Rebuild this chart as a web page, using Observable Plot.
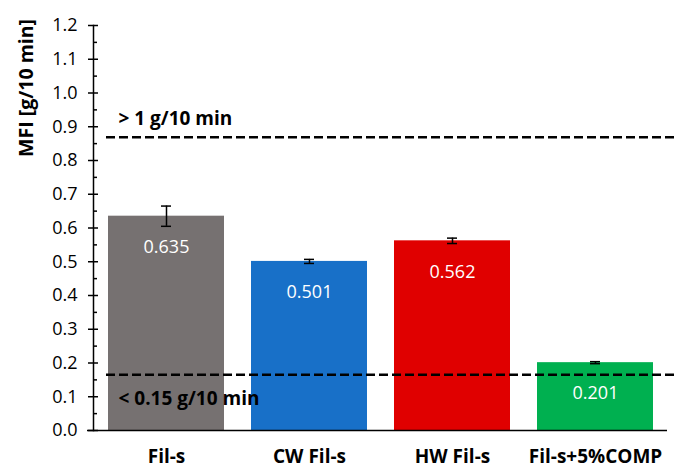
<!DOCTYPE html>
<html><head><meta charset="utf-8">
<script src="https://cdn.jsdelivr.net/npm/d3@7"></script>
<script src="https://cdn.jsdelivr.net/npm/@observablehq/plot@0.6"></script>
<style>body{margin:0;background:#fff}</style>
</head><body><div id="chart"></div>
<script>
const categories = ["Fil-s", "CW Fil-s", "HW Fil-s", "Fil-s+5%COMP"];
const values = [0.635, 0.501, 0.562, 0.201];
const errors = [0.03, 0.006, 0.008, 0.003];
const colors = ["#767171", "#1870C8", "#E00000", "#00B050"];
const yTicks = [0, 0.1, 0.2, 0.3, 0.4, 0.5, 0.6, 0.7, 0.8, 0.9, 1.0, 1.1, 1.2];
const yMinorTicks = [0.05, 0.15, 0.25, 0.35, 0.45, 0.55, 0.65, 0.75, 0.85, 0.95, 1.05, 1.15];
const limits = [0.869, 0.165];
const limitLabels = ["> 1 g/10 min", "< 0.15 g/10 min"];
const limitLabelY = [0.924, 0.095];
const yTitle = "MFI [g/10 min]";

const data = categories.map((c, i) => ({cat: c, v: values[i], e: errors[i], color: colors[i]}));
const font = "'Open Sans', sans-serif";

const chart = Plot.plot({
  width: 678, height: 468,
  marginLeft: 93, marginRight: 11, marginTop: 25, marginBottom: 38,
  style: {fontFamily: font, fontSize: "16px", color: "#000", background: "#fff"},
  x: {domain: categories, paddingInner: 0.19, paddingOuter: 0.095, label: null},
  y: {domain: [0, 1.2], label: null},
  marks: [
    Plot.barY(data, {x: "cat", y: "v", fill: "color"}),
    Plot.ruleY([0], {stroke: "#000", strokeWidth: 1.5, insetLeft: -6}),
    Plot.frame({anchor: "left", stroke: "#000", strokeWidth: 1.5}),
    Plot.axisY({ticks: yTicks, tickSize: 10, dx: 5, stroke: "#000", strokeWidth: 1.5, label: null, text: null}),
    Plot.axisY({ticks: yTicks, tickFormat: d => d.toFixed(1), tickSize: 0, tickPadding: 16, fontSize: 18, label: null, fill: "#000"}),
    Plot.axisY({ticks: yMinorTicks, tickSize: 4, dx: 4, text: null, label: null, stroke: "#000", strokeWidth: 1.5}),
    Plot.axisX({tickSize: 0, tickPadding: 19, fontSize: 19, fontWeight: "bold", label: null, fill: "#000"}),
    Plot.ruleX(data, {x: "cat", y1: d => d.v - d.e, y2: d => d.v + d.e, stroke: "#000", strokeWidth: 1.5}),
    Plot.tickY(data, {x: "cat", y: d => d.v + d.e, stroke: "#000", strokeWidth: 1.5, insetLeft: 53, insetRight: 53}),
    Plot.tickY(data, {x: "cat", y: d => d.v - d.e, stroke: "#000", strokeWidth: 1.5, insetLeft: 53, insetRight: 53}),
    Plot.text(data, {x: "cat", y: "v", text: d => d.v.toFixed(3), dy: 31, fill: "#fff", fontSize: 18}),
    Plot.ruleY(limits, {stroke: "#000", strokeWidth: 2.5, strokeDasharray: "9,4", insetLeft: 13, insetRight: -11}),
    Plot.text(limitLabels, {frameAnchor: "left", y: limitLabelY, text: d => d, textAnchor: "start", dx: 25, fontSize: 19, fontWeight: "bold", fill: "#000"}),
    Plot.text([yTitle], {frameAnchor: "left", y: [1.015], text: d => d, textAnchor: "middle", rotate: -90, dx: -67, fontSize: 19.5, fontWeight: "bold", fill: "#000"})
  ]
});
document.getElementById("chart").appendChild(chart);
</script></body></html>
